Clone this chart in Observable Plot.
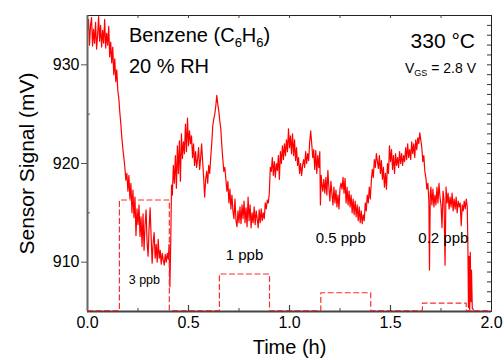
<!DOCTYPE html>
<html>
<head>
<meta charset="utf-8">
<script src="https://cdn.jsdelivr.net/npm/d3@7"></script>
<script src="https://cdn.jsdelivr.net/npm/@observablehq/plot@0.6"></script>
<style>
  html, body { margin: 0; padding: 0; background: #fff; }
  svg { display: block; }
</style>
</head>
<body>
<div id="chart"></div>
<script>
// ---- Data ----
const time = [
0.000,0.005,0.010,0.015,0.020,0.025,0.030,0.035,0.040,0.045,0.050,0.055,0.060,0.065,0.070,0.075,0.080,0.085,0.090,0.095,
0.100,0.105,0.110,0.115,0.120,0.125,0.130,0.135,0.140,0.145,0.150,0.155,0.160,0.165,0.170,0.175,0.180,0.185,0.190,0.195,
0.200,0.205,0.210,0.215,0.220,0.225,0.230,0.235,0.240,0.245,0.250,0.255,0.260,0.265,0.270,0.275,0.280,0.285,0.290,0.295,
0.300,0.305,0.310,0.315,0.320,0.325,0.330,0.335,0.340,0.345,0.350,0.355,0.360,0.365,0.370,0.375,0.380,0.385,0.390,0.395,
0.400,0.404,0.408,0.412,0.416,0.420,0.425,0.430,0.435,0.440,0.445,0.450,0.455,0.460,0.465,0.470,0.475,0.480,0.485,0.490,
0.495,0.500,0.505,0.510,0.515,0.520,0.525,0.530,0.535,0.540,0.545,0.550,0.555,0.560,0.565,0.570,0.575,0.580,0.585,0.590,
0.595,0.600,0.605,0.610,0.615,0.620,0.625,0.630,0.635,0.640,0.645,0.650,0.655,0.660,0.665,0.670,0.675,0.680,0.685,0.690,
0.695,0.700,0.705,0.710,0.715,0.720,0.725,0.730,0.735,0.740,0.745,0.750,0.755,0.760,0.765,0.770,0.775,0.780,0.785,0.790,
0.795,0.800,0.805,0.810,0.815,0.820,0.825,0.830,0.835,0.840,0.845,0.850,0.855,0.860,0.865,0.870,0.875,0.880,0.885,0.890,
0.895,0.900,0.905,0.910,0.915,0.920,0.925,0.930,0.935,0.940,0.945,0.950,0.955,0.960,0.965,0.970,0.975,0.980,0.985,0.990,
0.995,1.000,1.005,1.010,1.015,1.020,1.025,1.030,1.035,1.040,1.045,1.050,1.055,1.060,1.065,1.070,1.075,1.080,1.085,1.090,
1.095,1.100,1.105,1.110,1.115,1.120,1.125,1.130,1.135,1.140,1.145,1.150,1.153,1.157,1.160,1.165,1.170,1.175,1.180,1.185,
1.190,1.195,1.200,1.205,1.210,1.215,1.220,1.225,1.230,1.235,1.240,1.245,1.250,1.255,1.260,1.265,1.270,1.275,1.280,1.285,
1.290,1.295,1.300,1.305,1.310,1.315,1.320,1.325,1.330,1.335,1.340,1.345,1.350,1.355,1.360,1.365,1.370,1.375,1.380,1.385,
1.390,1.395,1.400,1.405,1.410,1.415,1.420,1.425,1.430,1.435,1.440,1.445,1.450,1.455,1.460,1.465,1.470,1.475,1.480,1.485,
1.490,1.495,1.500,1.505,1.510,1.515,1.520,1.525,1.530,1.535,1.540,1.545,1.550,1.555,1.560,1.565,1.570,1.575,1.580,1.585,
1.590,1.595,1.600,1.605,1.610,1.615,1.620,1.625,1.630,1.635,1.640,1.645,1.650,1.655,1.660,1.665,1.670,1.675,1.680,1.685,
1.690,1.693,1.697,1.700,1.705,1.710,1.715,1.720,1.725,1.730,1.735,1.740,1.745,1.750,1.755,1.760,1.765,1.770,1.775,1.780,
1.785,1.790,1.795,1.800,1.805,1.810,1.815,1.820,1.825,1.830,1.835,1.840,1.845,1.850,1.855,1.860,1.865,1.870,1.875,1.880,
1.883,1.886,1.889,1.892,1.895,1.898,1.901,1.905,1.910
];
const signal = [
933.5,934.6,932.0,934.0,934.8,931.9,933.6,932.2,934.3,931.6,933.0,934.9,932.4,934.0,931.8,933.5,932.2,934.6,931.7,933.2,
932.0,933.9,930.8,932.3,930.2,931.8,929.0,930.6,928.3,929.5,927.4,926.6,925.2,924.0,922.6,921.5,920.6,919.6,918.3,919.0,
917.2,918.8,916.4,918.0,915.0,917.3,914.5,916.6,912.7,915.4,913.8,915.8,912.6,914.6,911.6,914.9,911.2,913.8,915.3,912.0,
910.6,913.5,915.5,912.6,909.9,912.0,913.0,910.4,911.8,910.0,912.3,910.4,911.2,909.8,910.9,910.2,909.7,910.8,910.0,910.9,
910.3,911.8,907.5,912.0,917.8,916.8,919.8,918.0,920.8,917.5,921.8,919.0,922.3,918.2,923.0,920.5,922.2,921.0,924.0,921.2,
924.6,921.8,923.3,922.0,922.8,920.6,922.0,919.8,921.2,919.6,920.4,921.6,919.4,920.5,922.0,920.2,918.6,916.6,918.4,919.2,
918.0,919.8,919.0,920.6,922.0,923.8,924.5,925.0,925.8,926.9,926.0,925.3,924.3,923.5,921.8,920.4,919.2,919.6,918.4,917.2,
918.2,916.0,917.4,915.4,916.8,915.2,914.4,916.4,914.2,913.6,915.2,914.0,915.6,913.9,915.8,914.4,916.2,914.0,915.5,913.6,
916.6,914.2,915.8,913.5,915.0,914.0,915.6,913.8,915.2,914.4,913.5,915.3,914.0,915.4,914.2,915.0,914.4,916.0,915.4,916.3,
916.0,917.0,919.6,919.2,920.6,918.8,920.2,918.6,920.0,919.3,920.8,918.4,921.2,920.0,921.8,920.4,922.0,920.8,922.4,921.2,
923.5,921.6,922.8,921.0,923.0,920.8,922.4,920.3,921.6,919.8,920.6,919.0,920.0,918.8,919.8,920.4,919.6,921.2,920.0,921.0,
920.3,922.2,923.3,922.0,920.6,921.4,919.4,921.3,919.0,920.8,919.6,921.2,915.8,918.8,918.0,917.2,918.4,917.0,918.6,916.8,
919.3,917.6,916.2,918.2,917.0,915.8,917.6,916.0,917.3,915.6,916.8,915.4,917.5,918.0,917.4,918.6,917.0,918.5,916.0,917.6,
915.8,917.2,915.6,916.8,915.0,916.4,914.8,916.2,914.6,915.8,914.2,915.6,914.0,915.2,913.9,914.8,914.2,916.0,915.2,916.8,
916.0,917.6,916.4,918.2,919.4,918.6,920.4,919.6,921.0,920.2,919.5,920.8,919.0,920.3,918.4,919.6,917.6,919.0,917.4,920.0,
919.0,921.8,920.2,921.4,919.4,920.8,919.0,921.0,919.8,920.6,919.6,921.2,920.0,921.0,919.8,920.8,920.2,921.6,920.4,922.0,
920.6,921.4,920.4,922.2,921.0,922.0,920.6,922.4,921.4,922.6,922.0,923.1,922.4,921.6,920.2,920.8,919.2,918.6,917.4,918.0,
916.2,909.2,917.0,917.6,915.8,917.4,915.6,916.8,915.8,917.6,916.0,918.0,916.6,915.8,913.5,917.2,916.4,909.7,917.6,916.0,
917.0,915.4,916.6,915.6,917.0,915.2,916.4,915.4,916.6,915.0,916.2,915.6,916.0,913.7,915.8,915.2,916.2,915.4,916.4,915.6,
911.9,905.4,910.6,905.2,911.0,906.0,909.2,905.3,905.2
];

// Gas pulses (dashed concentration profile)
const pulseLabel = ["3 ppb", "1 ppb", "0.5 ppb", "0.2 ppb"];
const pulseStart = [0.158, 0.653, 1.155, 1.658];
const pulseEnd   = [0.405, 0.901, 1.402, 1.875];
const pulseLevel = [916.3, 908.8, 906.9, 905.85];
const profileBase = 905.1;
const timeRange = [0, 2];

// Ticks
const xMajor = [0, 0.5, 1.0, 1.5, 2.0];
const xMinor = [0.25, 0.75, 1.25, 1.75];
const xTop = [0.25, 0.5, 0.75, 1.0, 1.25, 1.5, 1.75];
const yMajor = [910, 920, 930];
const yMinor = [915, 925];
const yRight = [906,907,908,909,910,911,912,913,914,915,916,917,918,919,920,921,922,923,924,925,926,927,928,929,930,931,932,933,934];

// ---- Build tables ----
const signalData = time.map((t, i) => ({t, v: signal[i]}));
const profile = [{t: timeRange[0], v: profileBase}];
pulseStart.forEach((s, i) => {
  profile.push({t: s, v: profileBase}, {t: s, v: pulseLevel[i]},
               {t: pulseEnd[i], v: pulseLevel[i]}, {t: pulseEnd[i], v: profileBase});
});
profile.push({t: timeRange[1], v: profileBase});
const pulses = pulseLabel.map((label, i) => ({label, mid: (pulseStart[i] + pulseEnd[i]) / 2, i}));
const labelY = [908.2, 910.7, 912.4, 912.4];
const labelDx = [0, 0, -5, -1];

const FONT = "'Liberation Sans', Arial, Helvetica, sans-serif";

const chart = Plot.plot({
  width: 504,
  height: 360,
  marginLeft: 87,
  marginRight: 13,
  marginTop: 15,
  marginBottom: 49,
  style: {fontFamily: FONT, fontSize: "16px", color: "#000", background: "#fff", overflow: "visible"},
  x: {domain: [0, 2]},
  y: {domain: [905, 935]},
  marks: [
    Plot.line(signalData, {x: "t", y: "v", stroke: "#ff0000", strokeWidth: 1.2}),
    Plot.frame({stroke: "#222", strokeWidth: 1}),
    Plot.ruleX([0], {stroke: "#666", strokeWidth: 2}),
    Plot.ruleY([905], {stroke: "#444", strokeWidth: 2}),
    Plot.line(profile, {x: "t", y: "v", stroke: "#ff2a2a", strokeWidth: 1.2, strokeDasharray: "5,3.5"}),
    Plot.tickX(xMajor.slice(1, -1), {x: d => d, insetTop: 290, stroke: "#444", strokeWidth: 1.2}),
    Plot.tickX(xMinor, {x: d => d, insetTop: 293, stroke: "#444", strokeWidth: 1}),
    Plot.tickX(xTop, {x: d => d, insetBottom: 293, stroke: "#444", strokeWidth: 1}),
    Plot.tickY(yRight, {y: d => d, insetLeft: 400, stroke: "#333", strokeWidth: 1}),
    Plot.tickY(yMinor, {y: d => d, insetRight: 401, stroke: "#555", strokeWidth: 1}),
    Plot.axisY(yMajor, {anchor: "left", tickSize: 6, tickPadding: 2, fontSize: 16, stroke: "#555", label: null, tickFormat: d => String(d)}),
    Plot.axisX(xMajor, {anchor: "bottom", tickSize: 0, tickPadding: 5, fontSize: 16, label: null, tickFormat: d3.format(".1f")}),
    Plot.text(["Sensor Signal (mV)"], {frameAnchor: "left", dx: -60, rotate: -90, textAnchor: "middle", lineAnchor: "middle", text: d => d, fontSize: 21, fill: "#000"}),
    Plot.text(["Time (h)"], {frameAnchor: "bottom", dy: 36, textAnchor: "middle", lineAnchor: "middle", text: d => d, fontSize: 20, fill: "#000"}),
    Plot.text(pulses.filter(p => p.i === 0), {x: "mid", y: p => labelY[p.i], text: "label", fontSize: 12.5, fill: "#000"}),
    Plot.text(pulses.filter(p => p.i === 1), {x: "mid", y: p => labelY[p.i], text: "label", fontSize: 15, fill: "#000"}),
    Plot.text(pulses.filter(p => p.i === 2), {x: "mid", y: p => labelY[p.i], dx: labelDx[2], text: "label", fontSize: 15, fill: "#000"}),
    Plot.text(pulses.filter(p => p.i === 3), {x: "mid", y: p => labelY[p.i], dx: labelDx[3], text: "label", fontSize: 15, fill: "#000"})
  ]
});

document.getElementById("chart").appendChild(chart);

// Annotations with subscripts
const svg = d3.select(chart);
const t1 = svg.append("text").attr("x", 129).attr("y", 42).attr("font-size", 20).attr("text-anchor", "start").attr("font-family", FONT).attr("fill", "#000");
t1.append("tspan").text("Benzene (C");
t1.append("tspan").attr("font-size", 13).attr("dy", 5).text("6");
t1.append("tspan").attr("dy", -5).text("H");
t1.append("tspan").attr("font-size", 13).attr("dy", 5).text("6");
t1.append("tspan").attr("dy", -5).text(")");

svg.append("text").attr("x", 129).attr("y", 73).attr("font-size", 20).attr("text-anchor", "start").attr("font-family", FONT).attr("fill", "#000").text("20 % RH");

svg.append("text").attr("x", 475).attr("y", 48).attr("font-size", 21).attr("text-anchor", "end").attr("font-family", FONT).attr("fill", "#000").text("330 °C");

const t2 = svg.append("text").attr("x", 476).attr("y", 73).attr("font-size", 14).attr("text-anchor", "end").attr("font-family", FONT).attr("fill", "#000");
t2.append("tspan").text("V");
t2.append("tspan").attr("font-size", 9).attr("dy", 3).text("GS");
t2.append("tspan").attr("dy", -3).text(" = 2.8 V");
</script>
</body>
</html>
